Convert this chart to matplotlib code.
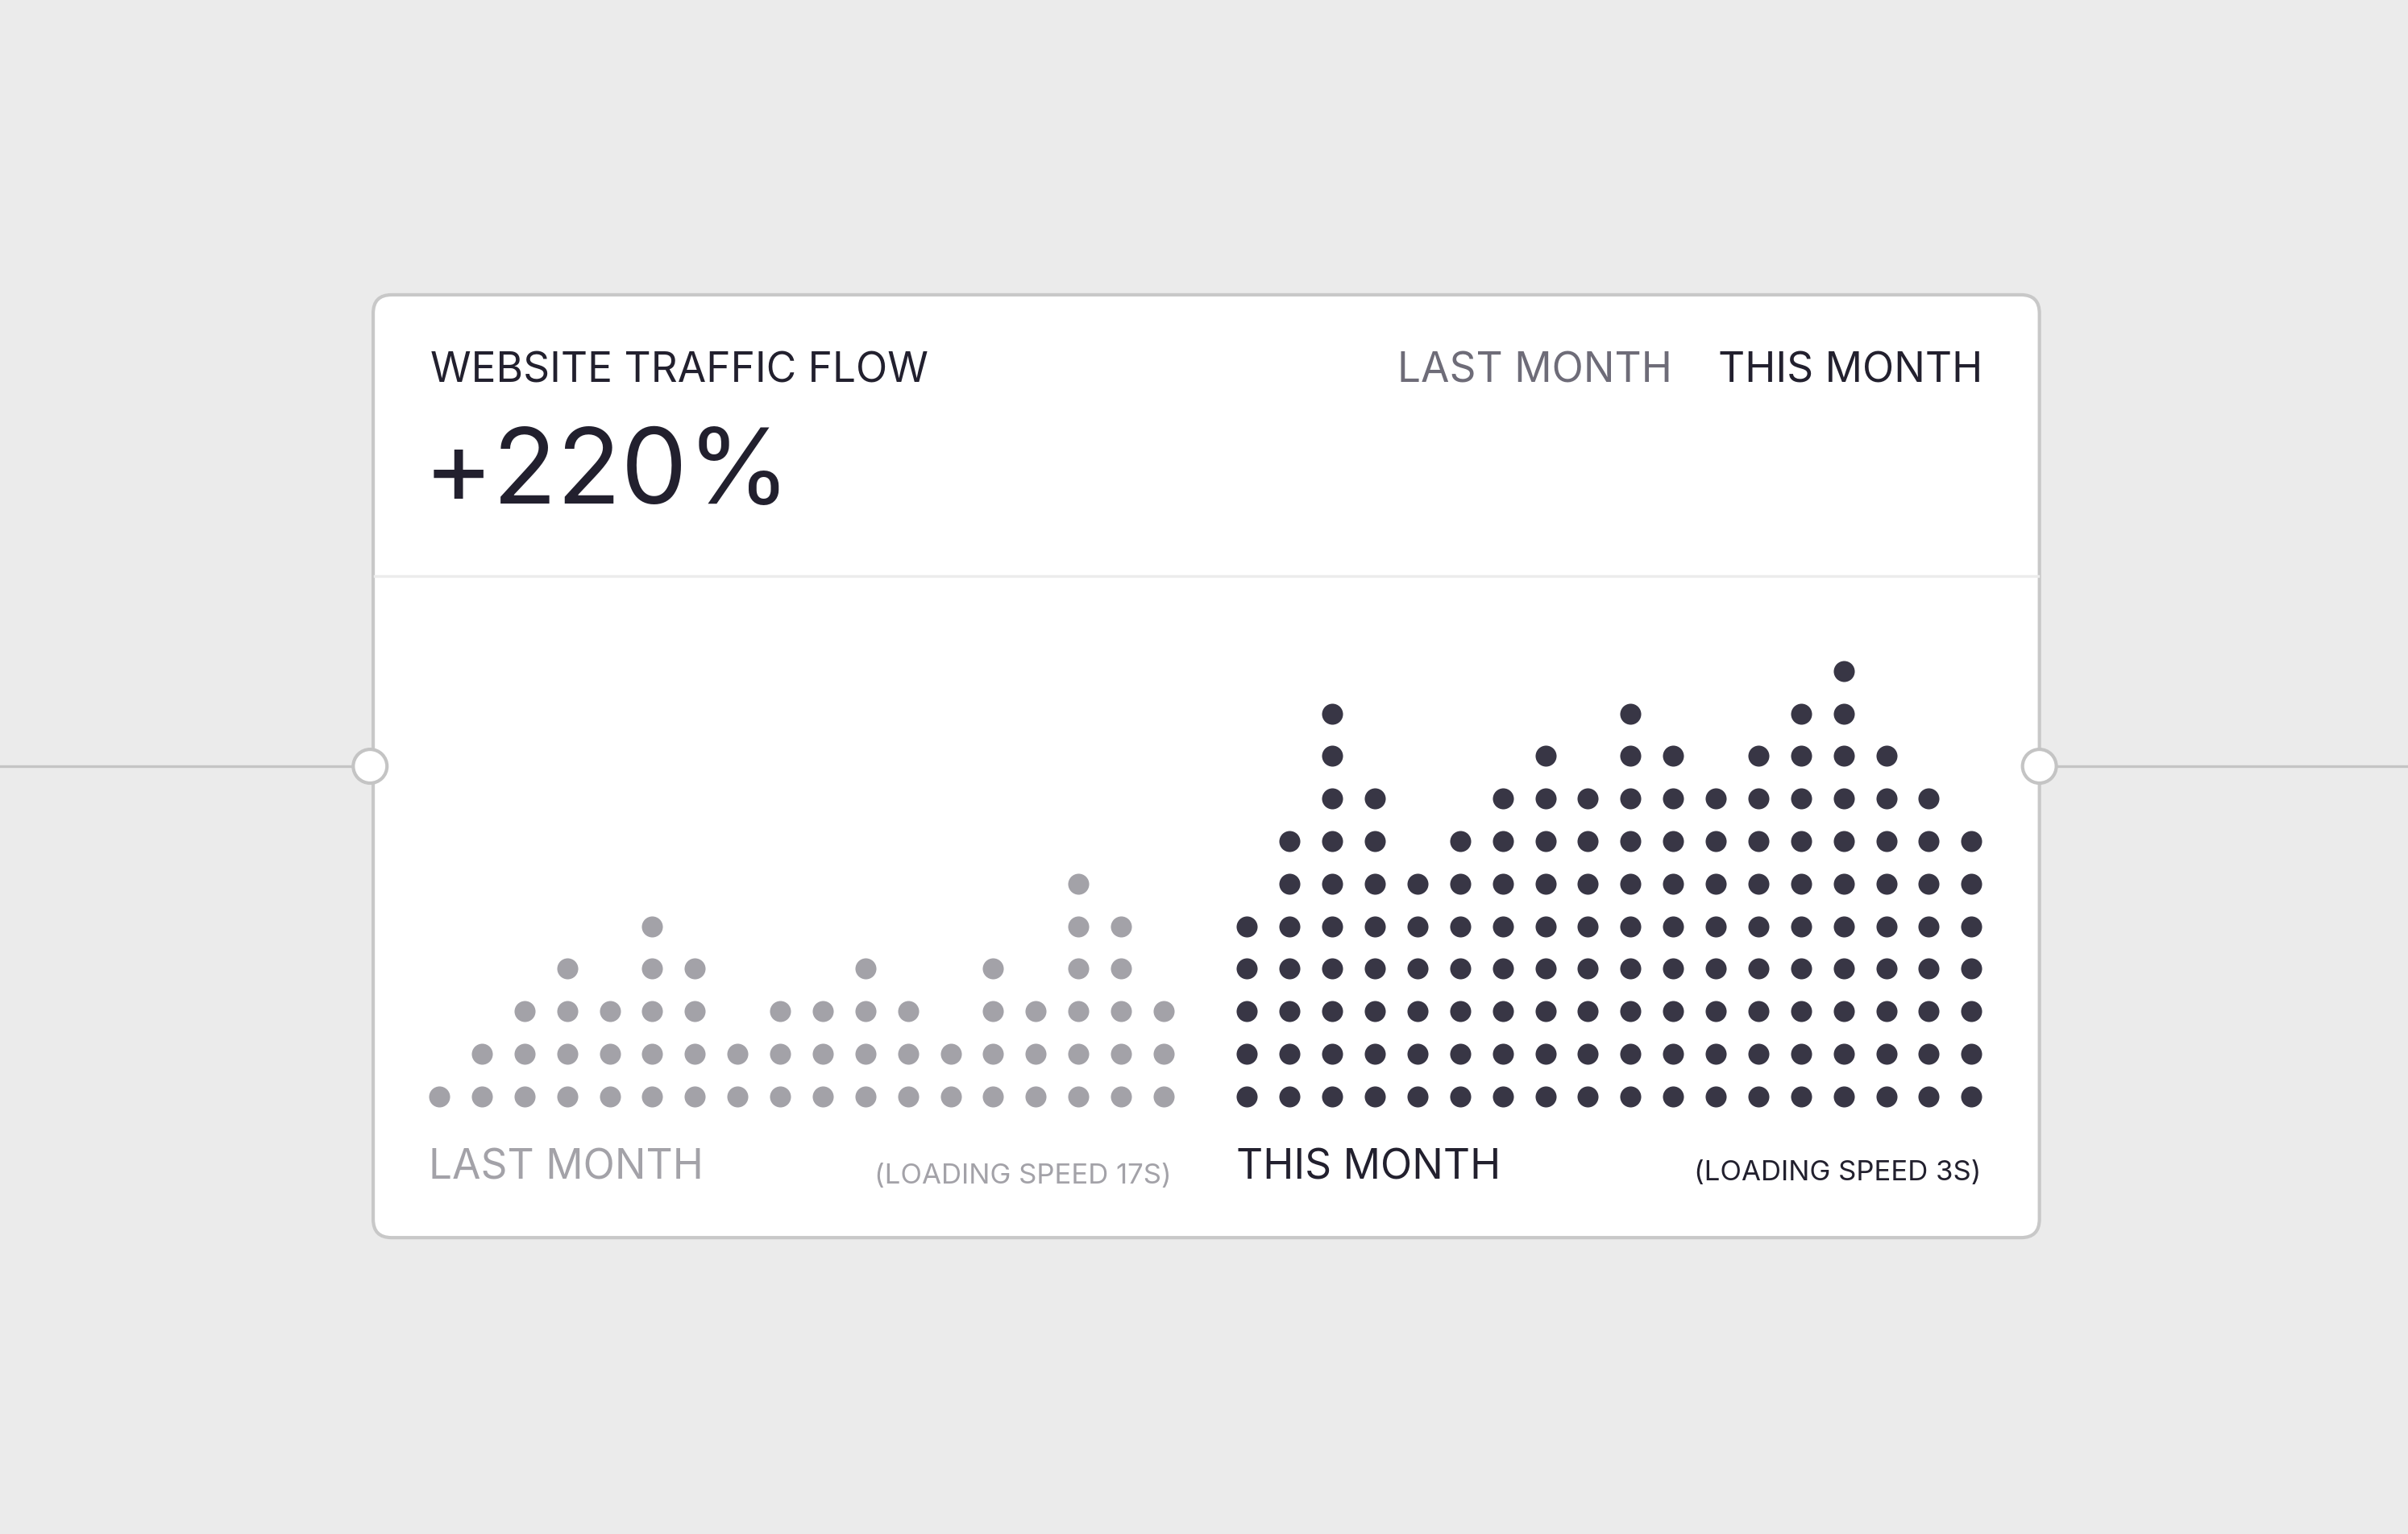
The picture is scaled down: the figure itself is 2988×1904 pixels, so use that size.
import matplotlib.pyplot as plt
from matplotlib.patches import FancyBboxPatch, Circle

plt.rcParams['font.family'] = ['Inter', 'DejaVu Sans']

# dots stacked per column
last_month = [1, 2, 3, 4, 3, 5, 4, 2, 3, 3, 4, 3, 2, 4, 3, 6, 5, 3]
this_month = [5, 7, 10, 8, 6, 7, 8, 9, 8, 10, 9, 8, 9, 10, 11, 9, 8, 7]
title = "WEBSITE TRAFFIC FLOW"
headline = "+220%"
legend_labels = ["LAST MONTH", "THIS MONTH"]
speed_labels = ["(LOADING SPEED 17S)", "(LOADING SPEED 3S)"]

BG = "#ebebeb"
DARK = "#383645"
GRAY = "#a3a2a8"
TEXT = "#22202e"

W, H = 1568, 999
fig = plt.figure(figsize=(14.94, 9.52), dpi=200, facecolor=BG)
ax = fig.add_axes([0, 0, 1, 1])
ax.set_xlim(0, W)
ax.set_ylim(H, 0)
ax.axis("off")

# connector line and handles
ax.plot([0, W], [499, 499], color="#c4c4c4", lw=1.2, zorder=0)
card = FancyBboxPatch((243, 192), 1085, 614, boxstyle="round,pad=0,rounding_size=12",
                      fc="white", ec="#c8c8c8", lw=1.5, zorder=1)
ax.add_patch(card)
ax.plot([244, 1327], [375, 375], color="#ececec", lw=1.2, zorder=2)
for cx in (241, 1328):
    ax.add_patch(Circle((cx, 499), 11, fc="white", ec="#c4c4c4", lw=1.5, zorder=3))

# header text
ax.text(280, 242, title, fontsize=18.5, color=TEXT, va="center", ha="left")
ax.text(276, 310, headline, fontsize=47, color=TEXT, va="center", ha="left")
ax.text(1089, 242, legend_labels[0], fontsize=18.5, color="#6e6c78", va="center", ha="right")
ax.text(1291, 242, legend_labels[1], fontsize=18.5, color=TEXT, va="center", ha="right")

# dot columns
step_x, step_y, base_y = 27.75, 27.7, 714
for x0, counts, col in ((286, last_month, GRAY), (812, this_month, DARK)):
    xs, ys = [], []
    for i, n in enumerate(counts):
        for j in range(n):
            xs.append(x0 + i * step_x)
            ys.append(base_y - j * step_y)
    ax.scatter(xs, ys, s=88, color=col, linewidths=0, zorder=4)

# footer labels
ax.text(279, 761, legend_labels[0], fontsize=18.5, color=GRAY, va="center", ha="left")
ax.text(763, 766, speed_labels[0], fontsize=12.5, color=GRAY, va="center", ha="right")
ax.text(805, 761, legend_labels[1], fontsize=18.5, color=TEXT, va="center", ha="left")
ax.text(1290, 764, speed_labels[1], fontsize=12.5, color=TEXT, va="center", ha="right")

fig.savefig("out.png", dpi=200, facecolor=BG)
